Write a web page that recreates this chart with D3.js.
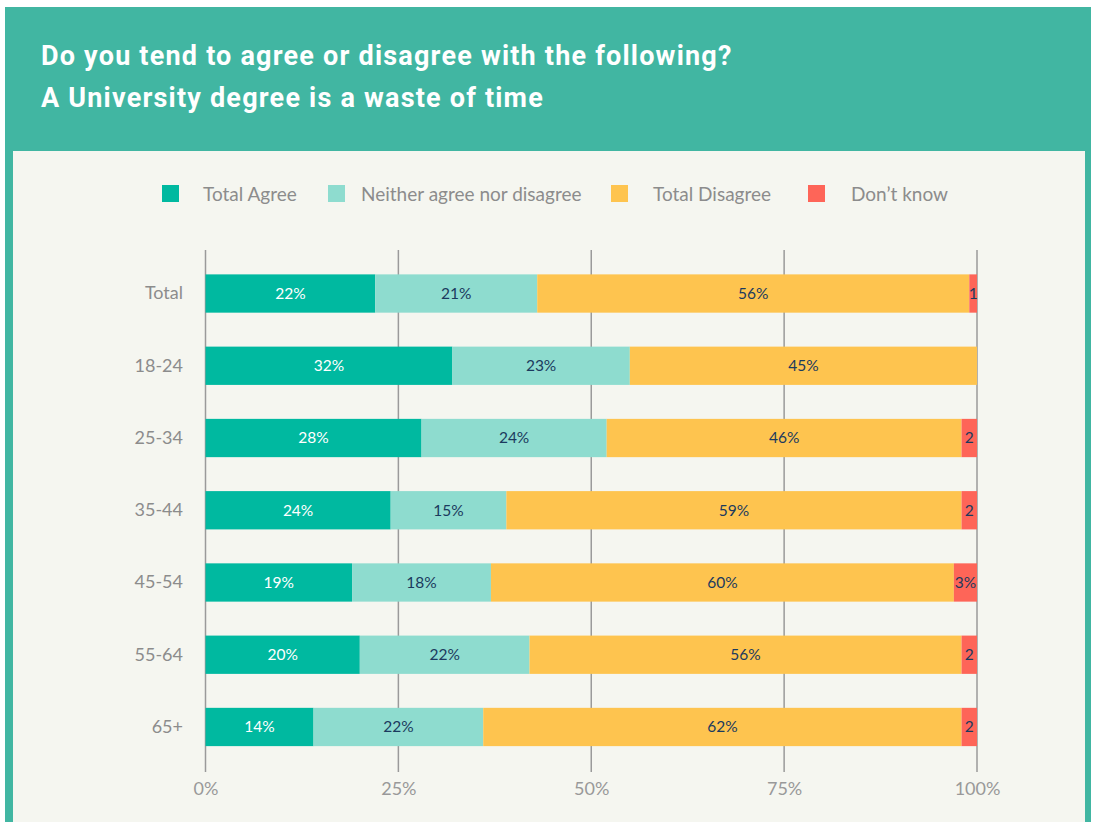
<!DOCTYPE html>
<html><head><meta charset="utf-8">
<script src="https://cdn.jsdelivr.net/npm/d3@7"></script>
<style>
html,body{margin:0;padding:0;background:#fff;}
svg{display:block;}
</style></head>
<body>
<svg id="chart" width="1098" height="822"></svg>
<script>
const categories = ["Total","18-24","25-34","35-44","45-54","55-64","65+"];
const seriesNames = ["Total Agree","Neither agree nor disagree","Total Disagree","Don\u2019t know"];
const agree    = [22,32,28,24,19,20,14];
const neither  = [21,23,24,15,18,22,22];
const disagree = [56,45,46,59,60,56,62];
const dontKnow = [1,0,2,2,3,2,2];
const dontKnowLabels = ["1","","2","2","3%","2","2"];
const tickValues = [0,25,50,75,100];
const tickLabels = ["0%","25%","50%","75%","100%"];
const titleLines = ["Do you tend to agree or disagree with the following?","A University degree is a waste of time"];

const colors = ["#00b9a0","#8edccf","#fec44f","#fe6558"];
const textColors = ["#ffffff","#1b3a5e","#1b3a5e","#1b3a5e"];
const teal = "#41b6a2", bg = "#f5f6f0";
const font = "Lato, 'Open Sans', sans-serif";

const svg = d3.select("#chart");
svg.append("rect").attr("x",5).attr("y",7).attr("width",1086).attr("height",830).attr("fill",teal);
svg.append("rect").attr("x",13).attr("y",151).attr("width",1072).attr("height",700).attr("fill",bg);

const title = svg.append("g");
titleLines.forEach((t,i)=>{
  title.append("text").attr("x",41).attr("y",65+i*42)
    .attr("fill","#fff").attr("font-family","Roboto, sans-serif")
    .attr("font-weight","bold").attr("font-size",27).attr("letter-spacing",1.2).text(t);
});

// legend
const legendX = [162,328,611,808];
const legendTextX = [203,361,653,851];
const lg = svg.append("g");
seriesNames.forEach((s,i)=>{
  lg.append("rect").attr("x",legendX[i]).attr("y",185).attr("width",17).attr("height",17).attr("fill",colors[i]);
  lg.append("text").attr("x",legendTextX[i]).attr("y",200.5).attr("fill","#8c8c8c")
    .attr("font-family",font).attr("font-size",19).text(s);
});

const x = d3.scaleLinear().domain([0,100]).range([205.5,977]);
const y = d3.scaleBand().domain(categories).range([257.4,763.1]).paddingInner(0.47).paddingOuter(0.235);

// grid
svg.append("g").selectAll("line").data(tickValues).join("line")
  .attr("x1",d=>x(d)).attr("x2",d=>x(d)).attr("y1",250).attr("y2",772)
  .attr("stroke","#9a9a9a").attr("stroke-width",1.5);

// x axis labels
const xAxis = d3.axisBottom(x).tickValues(tickValues).tickFormat((d,i)=>tickLabels[i]).tickSize(0).tickPadding(0);
const xg = svg.append("g").attr("transform","translate(0,782)").call(xAxis);
xg.select(".domain").remove();
xg.selectAll("text").attr("font-family",font).attr("font-size",18).attr("fill","#999").attr("dy","0.71em");

// y axis labels
const yAxis = d3.axisLeft(y).tickSize(0).tickPadding(0);
const yg = svg.append("g").attr("transform","translate(183,0)").call(yAxis);
yg.select(".domain").remove();
yg.selectAll("text").attr("font-family",font).attr("font-size",18).attr("fill","#8c8c8c");

const seriesData = [agree,neither,disagree,dontKnow];
const rows = categories.map((c,i)=>{
  let acc=0;
  return seriesData.map((s,k)=>{const v=s[i]; const seg={cat:c,k,x0:acc,x1:acc+v,v,label:k===3?dontKnowLabels[i]:v+"%"}; acc+=v; return seg;});
});
const segs = rows.flat().filter(d=>d.v>0);
const bars = svg.append("g");
bars.selectAll("rect").data(segs).join("rect")
  .attr("x",d=>x(d.x0)).attr("width",d=>x(d.x1)-x(d.x0))
  .attr("y",d=>y(d.cat)).attr("height",y.bandwidth()).attr("fill",d=>colors[d.k]);
bars.selectAll("text").data(segs).join("text")
  .attr("x",d=>(x(d.x0)+x(d.x1))/2).attr("y",d=>y(d.cat)+y.bandwidth()/2)
  .attr("dy","0.35em").attr("text-anchor","middle")
  .attr("font-family",font).attr("font-size",15.5).attr("fill",d=>textColors[d.k])
  .text(d=>d.label);
</script>
</body></html>
